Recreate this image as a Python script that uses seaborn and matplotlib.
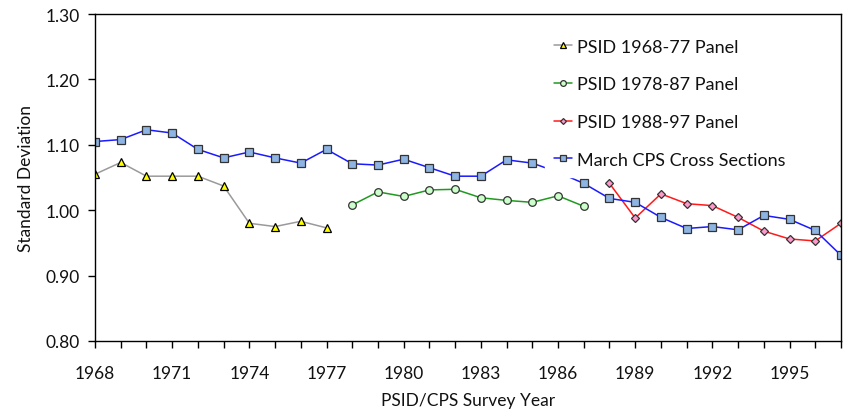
import matplotlib
matplotlib.use("Agg")
import matplotlib.pyplot as plt
import seaborn as sns
import numpy as np
import pandas as pd

years_a = list(range(1968, 1978))
psid_6877 = [1.055, 1.073, 1.052, 1.052, 1.052, 1.037, 0.980, 0.975, 0.983, 0.973]

years_b = list(range(1978, 1988))
psid_7887 = [1.008, 1.028, 1.021, 1.031, 1.032, 1.019, 1.015, 1.012, 1.022, 1.006]

years_c = list(range(1988, 1998))
psid_8897 = [1.041, 0.988, 1.025, 1.010, 1.007, 0.989, 0.968, 0.956, 0.953, 0.980]

years_cps = list(range(1968, 1998))
cps = [1.105, 1.108, 1.123, 1.118, 1.093, 1.080, 1.089, 1.080, 1.072, 1.093,
       1.071, 1.069, 1.078, 1.065, 1.052, 1.052, 1.077, 1.072, 1.058, 1.041,
       1.018, 1.012, 0.989, 0.972, 0.975, 0.970, 0.992, 0.986, 0.969, 0.931]

labels = ["PSID 1968-77 Panel", "PSID 1978-87 Panel", "PSID 1988-97 Panel",
          "March CPS Cross Sections"]
xtick_labels = ["1968", "1971", "1974", "1977", "1980", "1983", "1986", "1989", "1992", "1995"]

sns.set_theme(style="white")
plt.rcParams['font.family'] = ['Lato', 'DejaVu Sans']

fig = plt.figure(figsize=(8.43, 4.14), dpi=100)
ax = fig.add_axes([95/843, 1 - 342/414, 746/843, 327/414])

sns.lineplot(x=years_a, y=psid_6877, ax=ax, color="#9a9a9a", lw=1.1,
             marker="^", markersize=6, markerfacecolor="#ffff00",
             markeredgecolor="#000000", markeredgewidth=0.9, label=labels[0])
sns.lineplot(x=years_b, y=psid_7887, ax=ax, color="#1f9a1f", lw=1.1,
             marker="o", markersize=5.5, markerfacecolor="#ccffcc",
             markeredgecolor="#333333", markeredgewidth=0.9, label=labels[1])
sns.lineplot(x=years_c, y=psid_8897, ax=ax, color="#ff1a1a", lw=1.1,
             marker="D", markersize=4, markerfacecolor="#ff99cc",
             markeredgecolor="#333333", markeredgewidth=0.9, label=labels[2])
sns.lineplot(x=years_cps, y=cps, ax=ax, color="#1a1aff", lw=1.1,
             marker="s", markersize=6, markerfacecolor="#8db4e2",
             markeredgecolor="#333333", markeredgewidth=0.9, label=labels[3])

ax.set_xlim(1968, 1997)
ax.set_ylim(0.80, 1.30)
ax.set_xticks(range(1968, 1998))
lab_map = {int(s): s for s in xtick_labels}
ax.set_xticklabels([lab_map.get(y, "") for y in range(1968, 1998)])
ax.set_yticks(np.arange(0.80, 1.301, 0.10))
ax.set_yticklabels([f"{v:.2f}" for v in np.arange(0.80, 1.301, 0.10)])

ax.tick_params(axis='both', which='major', direction='out', length=5, width=1,
               color='black', labelsize=12.5, labelcolor='#111111', pad=6,
               bottom=True, left=True)
ax.tick_params(axis='x', pad=12)
for s in ax.spines.values():
    s.set_visible(True)
    s.set_color('black')
    s.set_linewidth(1)

ax.set_xlabel("PSID/CPS Survey Year", fontsize=12.5, color='#111111', labelpad=8)
ax.set_ylabel("Standard Deviation", fontsize=12.5, color='#111111', labelpad=8)

leg = ax.legend(loc='upper left', bbox_to_anchor=(0.603, 0.952), borderaxespad=0,
                frameon=True, fancybox=False, facecolor='white', edgecolor='white',
                framealpha=1, fontsize=13, labelspacing=1.2, handlelength=1.0,
                handletextpad=0.3, markerscale=0.75, borderpad=0.5)
for t in leg.get_texts():
    t.set_color('#111111')

fig.savefig("out.png", dpi=100, facecolor='white')
